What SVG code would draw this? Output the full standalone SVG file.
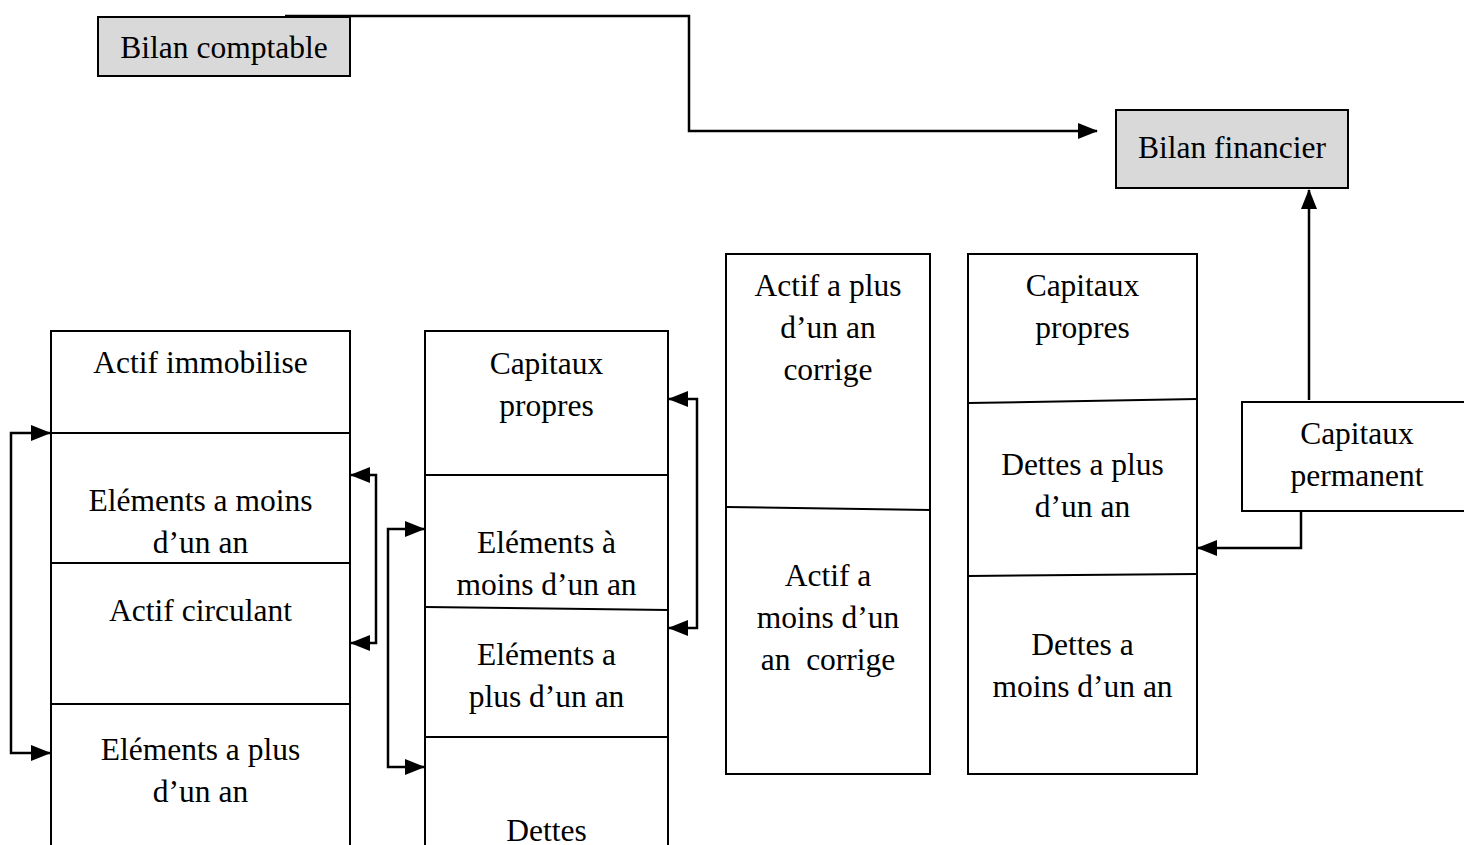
<svg xmlns="http://www.w3.org/2000/svg" width="1464" height="845" viewBox="0 0 1464 845">
<style>
.box{fill:#fff;stroke:#000;stroke-width:2}
.grey{fill:#d9d9d9;stroke:#000;stroke-width:2}
.div{stroke:#000;stroke-width:2;fill:none}
.con{stroke:#000;stroke-width:2.5;fill:none;marker-end:url(#ah)}
.dbl{stroke:#000;stroke-width:2.5;fill:none;marker-end:url(#ah);marker-start:url(#ah)}
text{font-family:"Liberation Serif","Times New Roman",serif;font-size:31.5px;fill:#000;text-anchor:middle}
</style>
<defs>
<marker id="ah" markerUnits="userSpaceOnUse" markerWidth="20" markerHeight="16" refX="19" refY="8" orient="auto-start-reverse">
<path d="M0,0 L20,8 L0,16 Z" fill="#000"/>
</marker>
</defs>
<rect width="1464" height="845" fill="#fff"/>
<g id="bilan-comptable">
<rect class="grey" x="98" y="17" width="252" height="59"/>
<text x="224" y="58">Bilan comptable</text>
</g>
<g id="bilan-financier">
<rect class="grey" x="1116" y="110" width="232" height="78"/>
<text x="1232" y="158">Bilan financier</text>
</g>
<g id="col1">
<rect class="box" x="51" y="331" width="299" height="540"/>
<line class="div" x1="51" y1="433" x2="350" y2="433"/>
<line class="div" x1="51" y1="563" x2="350" y2="563"/>
<line class="div" x1="51" y1="704" x2="350" y2="704"/>
<text x="200.5" y="373">Actif immobilise</text>
<text x="200.5" y="511">Eléments a moins</text>
<text x="200.5" y="553">d’un an</text>
<text x="200.5" y="621">Actif circulant</text>
<text x="200.5" y="760">Eléments a plus</text>
<text x="200.5" y="802">d’un an</text>
</g>
<g id="col2">
<rect class="box" x="425" y="331" width="243" height="540"/>
<line class="div" x1="425" y1="475" x2="668" y2="475"/>
<line class="div" x1="425" y1="607" x2="668" y2="610"/>
<line class="div" x1="425" y1="737" x2="668" y2="737"/>
<text x="546.5" y="374">Capitaux</text>
<text x="546.5" y="416">propres</text>
<text x="546.5" y="553">Eléments à</text>
<text x="546.5" y="595">moins d’un an</text>
<text x="546.5" y="665">Eléments a</text>
<text x="546.5" y="707">plus d’un an</text>
<text x="546.5" y="841">Dettes</text>
</g>
<g id="col3">
<rect class="box" x="726" y="254" width="204" height="520"/>
<line class="div" x1="726" y1="507" x2="930" y2="510"/>
<text x="828" y="296">Actif a plus</text>
<text x="828" y="338">d’un an</text>
<text x="828" y="380">corrige</text>
<text x="828" y="586">Actif a</text>
<text x="828" y="628">moins d’un</text>
<text x="828" y="670" xml:space="preserve">an  corrige</text>
</g>
<g id="col4">
<rect class="box" x="968" y="254" width="229" height="520"/>
<line class="div" x1="968" y1="403" x2="1197" y2="399"/>
<line class="div" x1="968" y1="576" x2="1197" y2="574"/>
<text x="1082.5" y="296">Capitaux</text>
<text x="1082.5" y="338">propres</text>
<text x="1082.5" y="475">Dettes a plus</text>
<text x="1082.5" y="517">d’un an</text>
<text x="1082.5" y="655">Dettes a</text>
<text x="1082.5" y="697">moins d’un an</text>
</g>
<g id="capitaux-permanent">
<rect class="box" x="1242" y="402" width="230" height="109"/>
<text x="1357" y="444">Capitaux</text>
<text x="1357" y="486">permanent</text>
</g>
<g id="connectors">
<polyline class="con" points="285,16 689,16 689,131 1097,131"/>
<polyline class="con" points="1309,400 1309,190"/>
<polyline class="con" points="1301,511 1301,548 1198,548"/>
<polyline class="dbl" points="50,433 11,433 11,753 50,753"/>
<polyline class="dbl" points="351,643 376,643 376,475 351,475"/>
<polyline class="dbl" points="424,529 388,529 388,767 424,767"/>
<polyline class="dbl" points="669,628 697,628 697,399 669,399"/>
</g>
</svg>
